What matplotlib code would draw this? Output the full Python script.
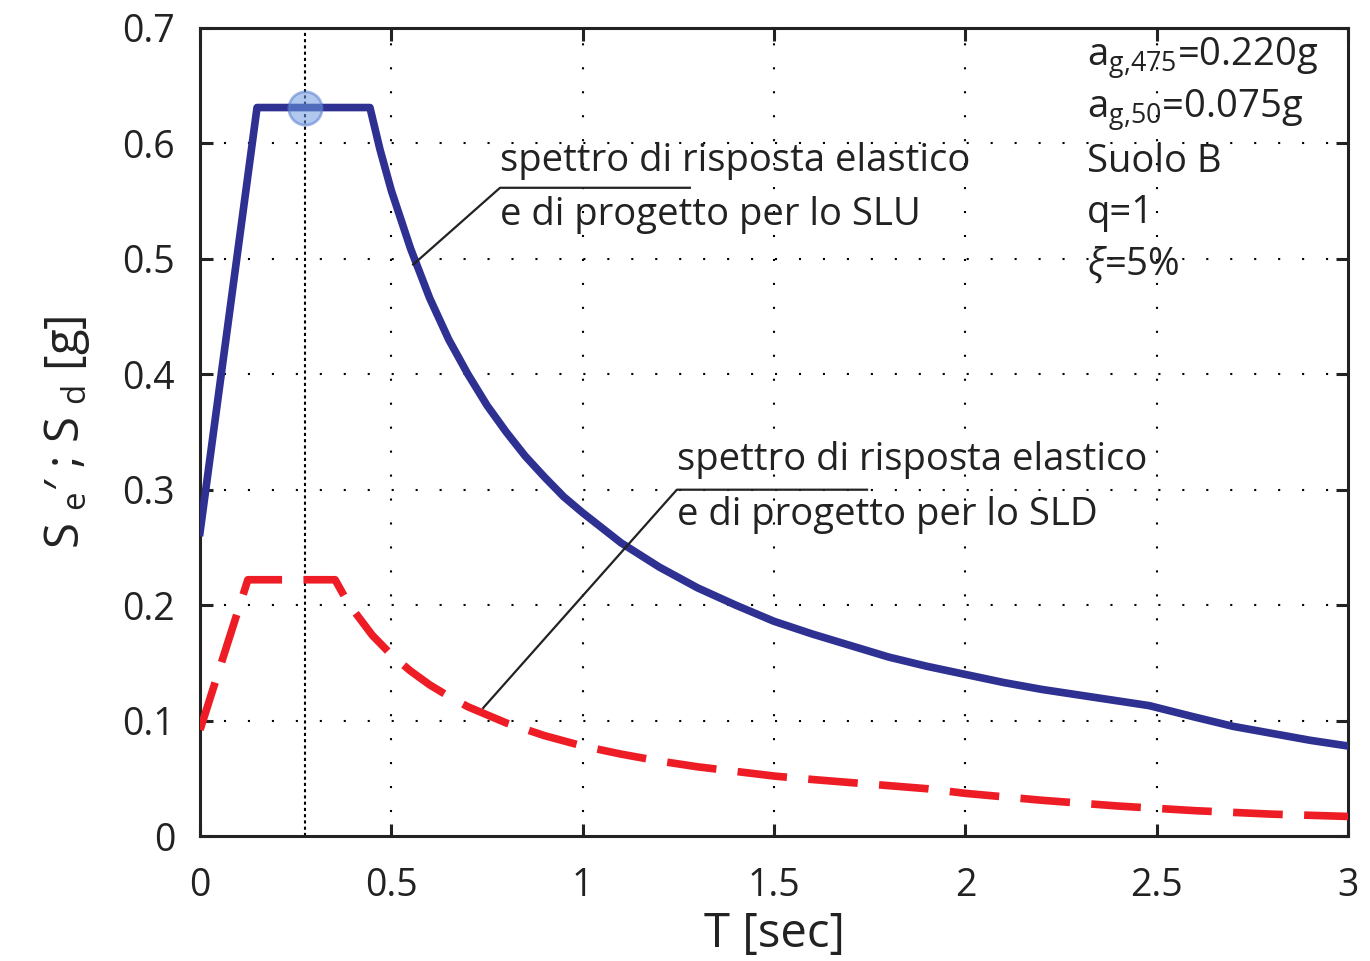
import matplotlib
matplotlib.use("Agg")
import matplotlib.pyplot as plt

# --- dati ---
# spettro SLU (linea blu continua)
T_slu = [0, 0.149, 0.444, 0.47, 0.5, 0.55, 0.6, 0.65, 0.7, 0.75, 0.8, 0.85, 0.9, 0.95,
         1.0, 1.1, 1.2, 1.3, 1.4, 1.5, 1.6, 1.7, 1.8, 1.9, 2.0, 2.1, 2.2, 2.3, 2.4,
         2.48, 2.6, 2.7, 2.8, 2.9, 3.0]
Se_slu = [0.263, 0.631, 0.631, 0.595, 0.559, 0.509, 0.466, 0.430, 0.400, 0.373, 0.350,
          0.329, 0.311, 0.294, 0.280, 0.254, 0.233, 0.215, 0.200, 0.186, 0.175, 0.165,
          0.155, 0.147, 0.140, 0.133, 0.127, 0.122, 0.117, 0.113, 0.103, 0.095, 0.089,
          0.083, 0.078]

# spettro SLD (linea rossa tratteggiata)
T_sld = [0, 0.125, 0.353, 0.38, 0.4, 0.45, 0.5, 0.55, 0.6, 0.65, 0.7, 0.75, 0.8, 0.9,
         1.0, 1.1, 1.2, 1.3, 1.4, 1.5, 1.6, 1.75, 1.9, 2.0, 2.2, 2.4, 2.6, 2.8, 3.0]
Se_sld = [0.092, 0.222, 0.222, 0.206, 0.196, 0.174, 0.157, 0.143, 0.131, 0.121, 0.112,
          0.105, 0.098, 0.087, 0.078, 0.071, 0.065, 0.060, 0.056, 0.052, 0.049, 0.045,
          0.041, 0.037, 0.031, 0.026, 0.022, 0.019, 0.017]

T_marker = 0.275
Se_marker = 0.631

x_ticks = [0, 0.5, 1, 1.5, 2, 2.5, 3]
x_labels = ["0", "0.5", "1", "1.5", "2", "2.5", "3"]
y_ticks = [0, 0.1, 0.2, 0.3, 0.4, 0.5, 0.6, 0.7]
y_labels = ["0", "0.1", "0.2", "0.3", "0.4", "0.5", "0.6", "0.7"]

info_lines = [r"a$_{\mathregular{g{,}475}}$=0.220g",
              r"a$_{\mathregular{g{,}50}}$=0.075g",
              "Suolo B",
              "q=1",
              r"$\xi$=5%"]

plt.rcParams['font.family'] = ['Open Sans', 'DejaVu Sans']
plt.rcParams['mathtext.fontset'] = 'custom'
plt.rcParams['mathtext.rm'] = 'Open Sans'
plt.rcParams['mathtext.it'] = 'Open Sans:italic'

fig = plt.figure(figsize=(13.7, 9.61), dpi=100)
ax = fig.add_axes([0.146, 0.130, 0.838, 0.841])

# griglia puntinata
for xt in x_ticks[1:-1]:
    ax.axvline(xt, color='black', linestyle=(0, (1, 10.5)), linewidth=1.5, zorder=1)
for yt in y_ticks[1:-1]:
    ax.axhline(yt, color='black', linestyle=(0, (1, 10.5)), linewidth=1.5, zorder=1)

ax.axvline(T_marker, color='black', linestyle=(0, (1.5, 1.5)), linewidth=1.5, zorder=2)

ax.plot(T_slu, Se_slu, color='#2e3192', linewidth=5.5, solid_joinstyle='round', zorder=3)
ax.plot(T_sld, Se_sld, color='#ee1c25', linewidth=5.5, linestyle=(0, (6.5, 2.8)),
        dash_joinstyle='round', zorder=3)
ax.plot([T_marker], [Se_marker], 'o', markersize=24, markerfacecolor='#6f9be0',
        markeredgecolor='#5a7fcf', markeredgewidth=2, alpha=0.55, zorder=4)

# annotazioni
ax.plot([0.557, 0.784, 1.28], [0.495, 0.5615, 0.5615], color='#222222', linewidth=1.6, zorder=5)
ax.text(0.784, 0.585, "spettro di risposta elastico", fontsize=27.5, va='center', ha='left', color='#222222')
ax.text(0.784, 0.538, "e di progetto per lo SLU", fontsize=27.5, va='center', ha='left', color='#222222')

ax.plot([0.740, 1.246, 1.743], [0.111, 0.300, 0.300], color='#222222', linewidth=1.6, zorder=5)
ax.text(1.246, 0.326, "spettro di risposta elastico", fontsize=27.5, va='center', ha='left', color='#222222')
ax.text(1.246, 0.278, "e di progetto per lo SLD", fontsize=27.5, va='center', ha='left', color='#222222')

info_y = [0.674, 0.629, 0.584, 0.540, 0.495]
for txt, yy in zip(info_lines, info_y):
    ax.text(2.318, yy, txt, fontsize=27.5, va='center', ha='left', color='#222222')

ax.set_xlim(0, 3)
ax.set_ylim(0, 0.7)
ax.set_xticks(x_ticks)
ax.set_xticklabels(x_labels)
ax.set_yticks(y_ticks)
ax.set_yticklabels(y_labels)
ax.tick_params(direction='in', length=9, width=2.2, labelsize=27, top=True, right=True,
               colors='#222222')
ax.tick_params(axis='x', pad=22)
ax.tick_params(axis='y', pad=18)
for s in ax.spines.values():
    s.set_linewidth(2.2)
    s.set_color('#222222')

ax.set_xlabel("T [sec]", fontsize=34, color='#222222', labelpad=4)
ax.set_ylabel(r"S $_{\mathregular{e}}$′ ; S $_{\mathregular{d}}$ [g]", fontsize=34,
              color='#222222', labelpad=22)

fig.savefig("out.png", dpi=100)
